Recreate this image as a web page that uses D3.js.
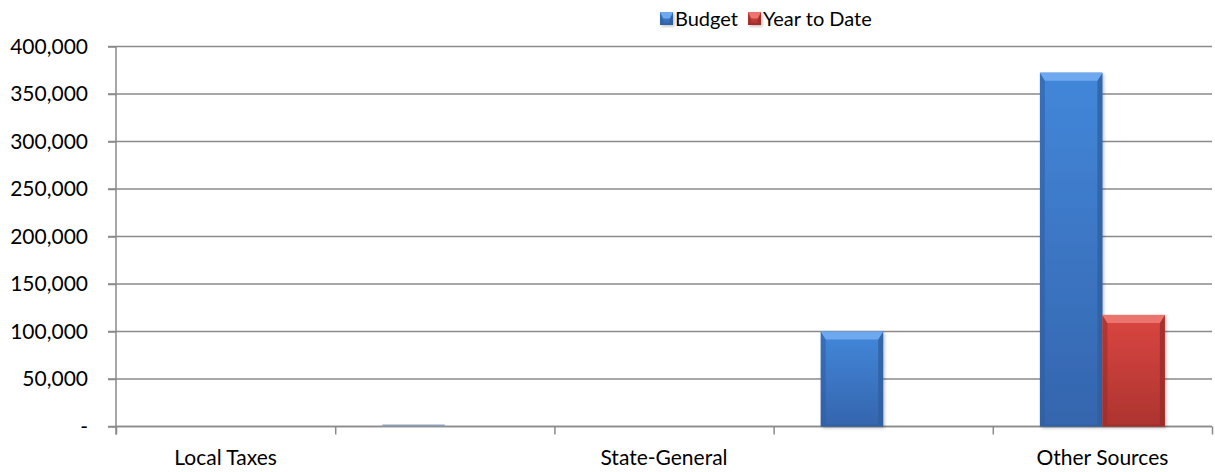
<!DOCTYPE html>
<html>
<head>
<meta charset="utf-8">
<script src="https://cdn.jsdelivr.net/npm/d3@7"></script>
<style>
    body { margin: 0; background: #fff; }
    #graphDiv { width: 1215px; height: 472px; }
    text { font-family: Lato, "Open Sans", sans-serif; fill: #000; }
</style>
</head>
<body>
<div id="graphDiv"></div>
<script>
// data
var categories = ["Local Taxes", "cat2", "State-General", "cat4", "Other Sources"];
var tickLabels = ["Local Taxes", "", "State-General", "", "Other Sources"];
var seriesNames = ["Budget", "Year to Date"];
var budget = [0, 1000, 0, 100000, 372500];
var yearToDate = [0, 0, 0, 0, 117500];
var yTicks = [0, 50000, 100000, 150000, 200000, 250000, 300000, 350000, 400000];

var w = 1215, h = 472;
var plotLeft = 116, plotRight = 1212, plotTop = 46.5, plotBottom = 426.5;

var svg = d3.select("#graphDiv").append("svg")
    .attr("width", w)
    .attr("height", h);

// gradients for the bevelled bars
var colors = [
    {face0: "#4387da", face1: "#3465ad", topc: "#6ea8ee", side: "#2f5d9e"},
    {face0: "#da4641", face1: "#ad3430", topc: "#ec746e", side: "#962b27"}
];
var defs = svg.append("defs");
colors.forEach(function (c, i) {
    var g = defs.append("linearGradient").attr("id", "face" + i)
        .attr("x1", 0).attr("y1", 0).attr("x2", 0).attr("y2", 1);
    g.append("stop").attr("offset", "0%").attr("stop-color", c.face0);
    g.append("stop").attr("offset", "100%").attr("stop-color", c.face1);
});
var f = defs.append("filter").attr("id", "shadow")
    .attr("x", "-10%").attr("y", "-10%").attr("width", "130%").attr("height", "130%");
f.append("feDropShadow").attr("dx", 1.5).attr("dy", 1.5).attr("stdDeviation", 1.5)
    .attr("flood-color", "#000").attr("flood-opacity", 0.25);

var y = d3.scaleLinear().domain([0, 400000]).range([plotBottom, plotTop]);

var x = d3.scaleBand().domain(categories).range([plotLeft, plotRight])
    .paddingInner(0.43).paddingOuter(0.215);
var xs = d3.scaleBand().domain(seriesNames).range([0, x.bandwidth()]);
var bounds = d3.scaleLinear().domain([0, categories.length]).range([plotLeft, plotRight]);

// gridlines
svg.append("g").attr("class", "grid")
    .selectAll("line").data(yTicks).enter().append("line")
    .attr("x1", plotLeft - 8).attr("x2", plotRight)
    .attr("y1", function (d) { return y(d); })
    .attr("y2", function (d) { return y(d); })
    .attr("stroke", "#8a8a8a").attr("stroke-width", 1.5);

// y axis
var yAxis = d3.axisLeft(y).tickValues(yTicks).tickSize(8).tickPadding(20)
    .tickFormat(function (d) { return d === 0 ? "-" : d3.format(",")(d); });
var gy = svg.append("g").attr("class", "y axis")
    .attr("transform", "translate(" + plotLeft + ",0)")
    .call(yAxis);
gy.select(".domain").remove();
gy.selectAll("text").attr("style", "font-size:21px;").attr("fill", "#000");
svg.append("line")
    .attr("x1", plotLeft).attr("x2", plotLeft).attr("y1", plotTop).attr("y2", plotBottom + 8)
    .attr("stroke", "#8a8a8a").attr("stroke-width", 1.5);

// x axis: boundary ticks + category labels
var gxb = svg.append("g").attr("class", "x axis")
    .attr("transform", "translate(0," + plotBottom + ")")
    .call(d3.axisBottom(bounds).ticks(5).tickSize(8).tickFormat(""));
gxb.select(".domain").remove();
svg.append("line")
    .attr("x1", plotLeft).attr("x2", plotRight).attr("y1", plotBottom).attr("y2", plotBottom)
    .attr("stroke", "#8a8a8a").attr("stroke-width", 1.5);
var gx = svg.append("g").attr("class", "x labels")
    .attr("transform", "translate(0," + plotBottom + ")")
    .call(d3.axisBottom(x).tickSize(0).tickPadding(23.5)
        .tickFormat(function (d, i) { return tickLabels[i]; }));
gx.select(".domain").remove();
gx.selectAll("text").attr("style", "font-size:21px;").attr("fill", "#000");
svg.selectAll(".axis").selectAll("line").attr("stroke", "#8a8a8a").attr("stroke-width", 1.5);

// bars
var rows = [];
categories.forEach(function (c, i) {
    rows.push({cat: c, s: 0, name: seriesNames[0], v: budget[i]});
    rows.push({cat: c, s: 1, name: seriesNames[1], v: yearToDate[i]});
});

function bevelBar(g, x0, x1, yT, yB, c, i) {
    var hgt = yB - yT;
    if (hgt <= 0) return;
    if (hgt < 4) {
        g.append("rect").attr("x", x0).attr("y", yT - 1).attr("width", x1 - x0).attr("height", hgt + 1)
            .attr("fill", "#8b9cb6");
        return;
    }
    var b = Math.min(8, hgt / 2), s = Math.min(5, (x1 - x0) / 4);
    g.append("rect").attr("x", x0).attr("y", yT).attr("width", x1 - x0).attr("height", hgt)
        .attr("fill", "url(#face" + i + ")").attr("filter", "url(#shadow)");
    g.append("polygon").attr("fill", c.side).attr("opacity", 0.55)
        .attr("points", [[x0, yT], [x0 + s, yT + b], [x0 + s, yB - 2], [x0, yB]].join(" "));
    g.append("polygon").attr("fill", c.side).attr("opacity", 0.75)
        .attr("points", [[x1, yT], [x1 - s, yT + b], [x1 - s, yB - 2], [x1, yB]].join(" "));
    g.append("polygon").attr("fill", c.topc)
        .attr("points", [[x0, yT], [x1, yT], [x1 - s, yT + b], [x0 + s, yT + b]].join(" "));
    g.append("polygon").attr("fill", c.side).attr("opacity", 0.6)
        .attr("points", [[x0, yB], [x1, yB], [x1 - s, yB - 2], [x0 + s, yB - 2]].join(" "));
}

var gBars = svg.append("g").attr("class", "bars");
rows.forEach(function (d) {
    var x0 = x(d.cat) + xs(d.name), x1 = x0 + xs.bandwidth();
    bevelBar(gBars.append("g"), x0, x1, y(d.v), y(0), colors[d.s], d.s);
});

// legend
var legX = [660, 748];
var leg = svg.append("g").attr("class", "legend");
seriesNames.forEach(function (n, i) {
    bevelBar(leg.append("g"), legX[i], legX[i] + 13, 12, 25, colors[i], i);
    leg.append("text")
        .attr("x", legX[i] + 15).attr("y", 26)
        .attr("style", "font-size:20px;")
        .text(n);
});
</script>
</body>
</html>
